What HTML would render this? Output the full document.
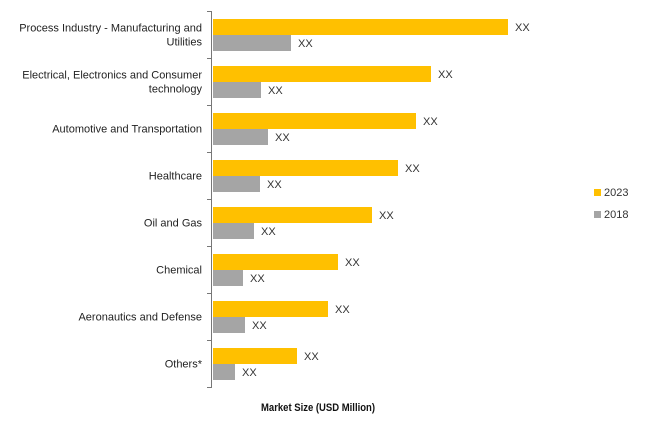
<!DOCTYPE html>
<html><head><meta charset="utf-8"><style>
body{margin:0;background:#fff;width:650px;height:423px;overflow:hidden;font-family:"Liberation Sans",sans-serif;}
svg text{font-family:"Liberation Sans",sans-serif;}
</style></head><body>
<svg id="chart" width="650" height="423" xmlns="http://www.w3.org/2000/svg">
<g id="plot"></g>
<text x="318" y="411" font-size="11" font-weight="bold" text-anchor="middle" fill="#111" textLength="114" lengthAdjust="spacingAndGlyphs">Market Size (USD Million)</text>
<g>
<rect x="594" y="189" width="7" height="7" fill="#FFC000"/>
<text x="604" y="196" font-size="11" fill="#333">2023</text>
<rect x="594" y="211" width="7" height="7" fill="#A5A5A5"/>
<text x="604" y="218" font-size="11" fill="#333">2018</text>
</g>
</svg>
<script>
const categories=[["Process Industry - Manufacturing and","Utilities"],["Electrical, Electronics and Consumer","technology"],["Automotive and Transportation"],["Healthcare"],["Oil and Gas"],["Chemical"],["Aeronautics and Defense"],["Others*"]];
const values2023=[295,218,203,185,159,125,115,84];
const values2018=[78,48,55,47,41,30,32,22];
const valueLabels2023=["XX","XX","XX","XX","XX","XX","XX","XX"];
const valueLabels2018=["XX","XX","XX","XX","XX","XX","XX","XX"];

const NS="http://www.w3.org/2000/svg";
const plotG=document.getElementById('plot');
const x0=213, plotTop=11, band=47;
function xScale(v){return x0+v*1.0;}
function yBand(i){return plotTop+i*band;}
function mk(tag,attrs){const e=document.createElementNS(NS,tag);for(const k in attrs)e.setAttribute(k,attrs[k]);plotG.appendChild(e);return e;}
const axis=mk('line',{x1:211.5,y1:plotTop,x2:211.5,y2:plotTop+band*categories.length,stroke:'#777','stroke-width':1});


for(let i=0;i<=categories.length;i++){
  const t=mk('line',{x1:207,x2:212,y1:yBand(i)+0.5,y2:yBand(i)+0.5,stroke:'#777','stroke-width':1});
  
  
}
categories.forEach((c,i)=>{
  const y=yBand(i);
  const b1=mk('rect',{x:x0,y:y+8,width:xScale(values2023[i])-x0,height:16,fill:'#FFC000'});
  
  
  const b2=mk('rect',{x:x0,y:y+24,width:xScale(values2018[i])-x0,height:16,fill:'#A5A5A5'});
  
  
  const l1=mk('text',{x:xScale(values2023[i])+7,y:y+20,'font-size':11,fill:'#333'});
  l1.textContent=valueLabels2023[i];
  
  
  const l2=mk('text',{x:xScale(values2018[i])+7,y:y+36,'font-size':11,fill:'#333'});
  l2.textContent=valueLabels2018[i];
  
  
  const lab=mk('text',{x:202,'font-size':11,fill:'#222','text-anchor':'end'});
  
  
  const cy=y+band/2+4;
  if(c.length===1){lab.setAttribute('y',cy);lab.textContent=c[0];}
  else{
    lab.setAttribute('y',cy-7);
    c.forEach((s,k)=>{const ts=document.createElementNS(NS,'tspan');ts.setAttribute('x',202);if(k>0)ts.setAttribute('dy',14);ts.textContent=s;lab.appendChild(ts);});
  }
});
</script>
</body></html>
